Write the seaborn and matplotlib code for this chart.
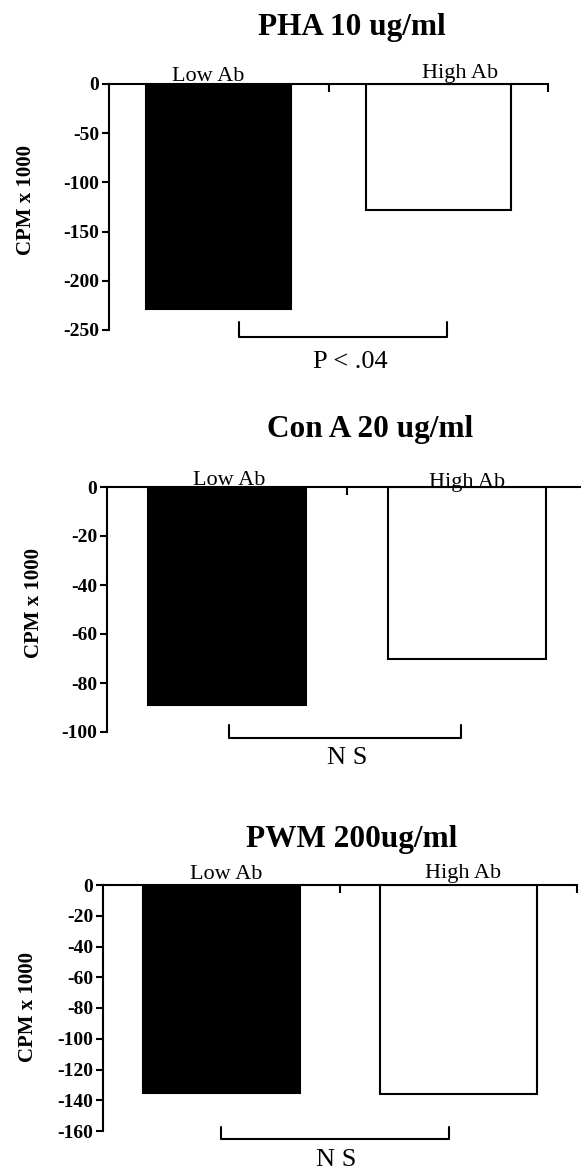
import matplotlib
matplotlib.use("Agg")
import matplotlib.pyplot as plt
import seaborn as sns
import pandas as pd

groups = ["Low Ab", "High Ab"]
pha = [-229, -128]
cona = [-89, -70]
pwm = [-135, -136]

titles = ["PHA 10 ug/ml", "Con A 20 ug/ml", "PWM 200ug/ml"]
yticks = [[0, -50, -100, -150, -200, -250],
          [0, -20, -40, -60, -80, -100],
          [0, -20, -40, -60, -80, -100, -120, -140, -160]]
stats = ["P < .04", "N S", "N S"]

sns.set_style("ticks")
plt.rcParams["font.family"] = ["Liberation Serif", "DejaVu Serif"]
plt.rcParams["axes.unicode_minus"] = False
for k in ["text.color", "axes.edgecolor", "xtick.color", "ytick.color",
          "axes.labelcolor"]:
    plt.rcParams[k] = "black"

W, H = 581, 1170
fig = plt.figure(figsize=(W / 100, H / 100), dpi=100)

# pixel boxes: left, right, top(0), bottom(min)
boxes = [(109, 548, 84, 330), (107, 587, 487, 732), (103, 577, 885, 1131)]
title_pos = [(352, 27), (370, 430), (352, 840)]
ylab_pos = [(26, 200), (34, 603), (28, 1007)]
# label positions (x offset from category, baseline value)
lab_pos = [[(-0.05, 3), (0.10, 6)], [(0.01, 0.8), (0.0, 0.0)], [(0.02, 3.9), (0.02, 4.5)]]
brackets = [(0.09, 1.04, -242, -257, 0.6, -283),
            (0.01, 0.975, -97, -102.4, 0.5, -110.5),
            (-0.004, 0.962, -157.4, -165.2, 0.483, -179)]

for i, vals in enumerate([pha, cona, pwm]):
    l, r, t, b = boxes[i]
    ax = fig.add_axes([l / W, 1 - b / H, (r - l) / W, (b - t) / H])
    df = pd.DataFrame({"group": groups, "cpm": vals})
    sns.barplot(data=df, x="group", y="cpm", hue="group", order=groups,
                palette=["black", "white"], edgecolor="black", linewidth=1.5,
                width=0.66, legend=False, ax=ax)
    ax.set_xlim(-0.5, 1.5)
    ax.set_ylim(yticks[i][-1], 0)
    ax.set_yticks(yticks[i])
    ax.set_xlabel("")
    ax.set_ylabel("")
    ax.spines["bottom"].set_visible(False)
    ax.spines["right"].set_visible(False)
    ax.spines["top"].set_linewidth(1.5)
    ax.spines["left"].set_linewidth(1.5)
    ax.xaxis.tick_top()
    ax.set_xticks([0.5, 1.5])
    ax.tick_params(axis="x", direction="in", length=6, width=1.5,
                   labeltop=False, labelbottom=False)
    ax.tick_params(axis="y", direction="out", length=5, width=1.5, pad=2,
                   labelsize=14)
    for lbl in ax.get_yticklabels():
        lbl.set_fontweight("bold")

    for j, g in enumerate(groups):
        dx, yb = lab_pos[i][j]
        ax.text(j + dx, yb, g, ha="center", va="baseline", fontsize=16,
                clip_on=False)

    x0, x1, yt, ybm, tx, ty = brackets[i]
    ax.plot([x0, x0, x1, x1], [yt, ybm, ybm, yt], color="black", lw=1.5,
            clip_on=False)
    ax.text(tx, ty, stats[i], ha="center", va="center", fontsize=19,
            clip_on=False)

    tx_, ty_ = title_pos[i]
    fig.text(tx_ / W, 1 - ty_ / H, titles[i], ha="center", va="center",
             fontsize=22.5, fontweight="bold")
    lx, ly = ylab_pos[i]
    fig.text(lx / W, 1 - ly / H, "CPM x 1000", ha="center", va="center",
             rotation=90, fontsize=15, fontweight="bold")

fig.savefig("out.png", dpi=100)
